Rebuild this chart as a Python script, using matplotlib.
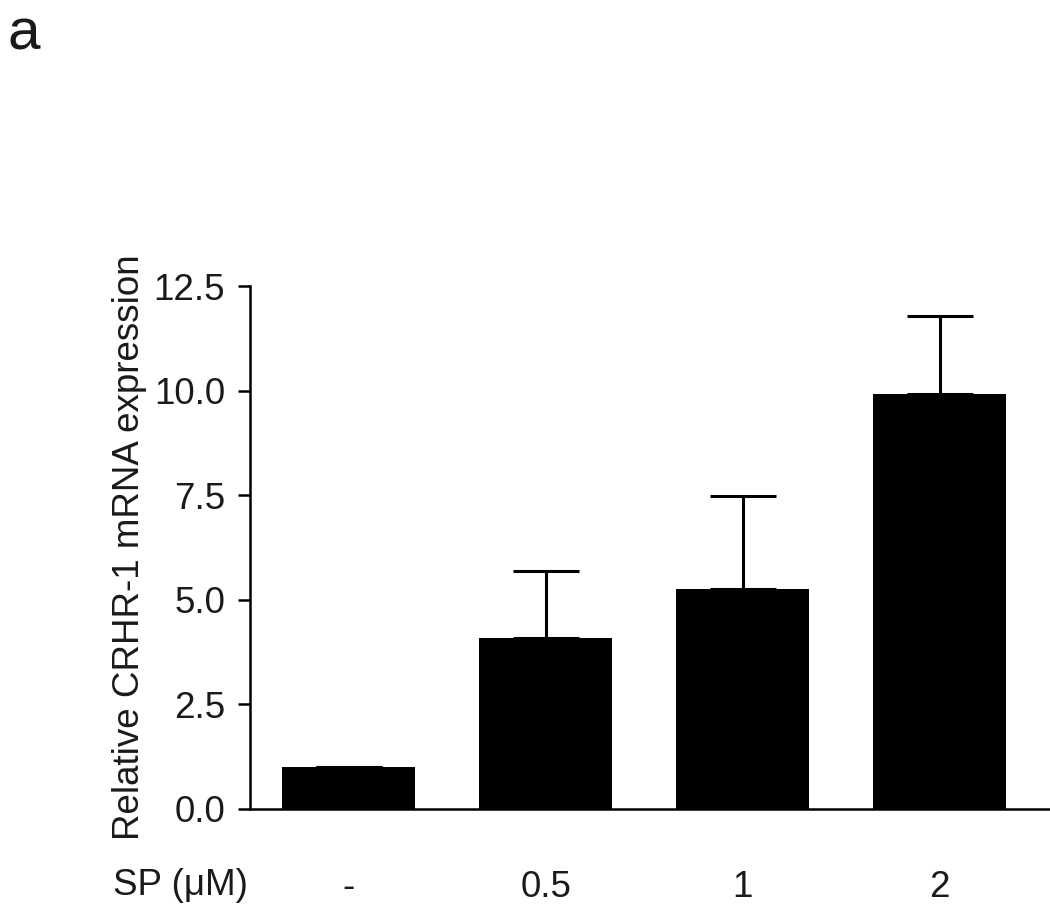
import matplotlib
matplotlib.use("Agg")
import matplotlib.pyplot as plt

# Data
categories = ["-", "0.5", "1", "2"]
means = [1.0, 4.09, 5.26, 9.92]
errors_upper = [0.0, 1.60, 2.21, 1.86]
yticks = [0.0, 2.5, 5.0, 7.5, 10.0, 12.5]
ytick_labels = ["0.0", "2.5", "5.0", "7.5", "10.0", "12.5"]

plt.rcParams['font.family'] = ['Liberation Sans', 'DejaVu Sans']
txt_color = '#1a1a1a'

fig = plt.figure(figsize=(10.5, 9.21), dpi=100)
ax = fig.add_axes([250/1050, 1 - 809/921, 1 - 250/1050, (809-286)/921])

x = list(range(len(categories)))
ax.bar(x, means, width=0.675, color='black', linewidth=0, zorder=2)
ax.errorbar(x, means, yerr=[[0]*len(means), errors_upper], fmt='none',
            ecolor='black', elinewidth=2.2, capsize=23.8, capthick=2.2, zorder=1)

ax.set_xlim(-0.5, 3.56)
ax.set_ylim(0, 12.5)
ax.set_yticks(yticks)
ax.set_yticklabels(ytick_labels)
ax.set_xticks(x)
ax.set_xticklabels(categories)

for s in ['top', 'right']:
    ax.spines[s].set_visible(False)
for s in ['left', 'bottom']:
    ax.spines[s].set_linewidth(1.8)
    ax.spines[s].set_color('black')

ax.tick_params(axis='y', length=9, width=1.8, pad=9, labelsize=26.5, labelcolor=txt_color)
ax.tick_params(axis='x', length=0, pad=44, labelsize=26.5, labelcolor=txt_color)

ax.set_ylabel("Relative CRHR-1 mRNA expression", fontsize=26.5, color=txt_color, labelpad=5)

fig.text(113/1050, 1 - 885/921, "SP (μM)", fontsize=26.5, color=txt_color, ha='left', va='center')
fig.text(8/1050, 1 - 35/921, "a", fontsize=42, color=txt_color, ha='left', va='center')

fig.savefig("out.png", dpi=100)
